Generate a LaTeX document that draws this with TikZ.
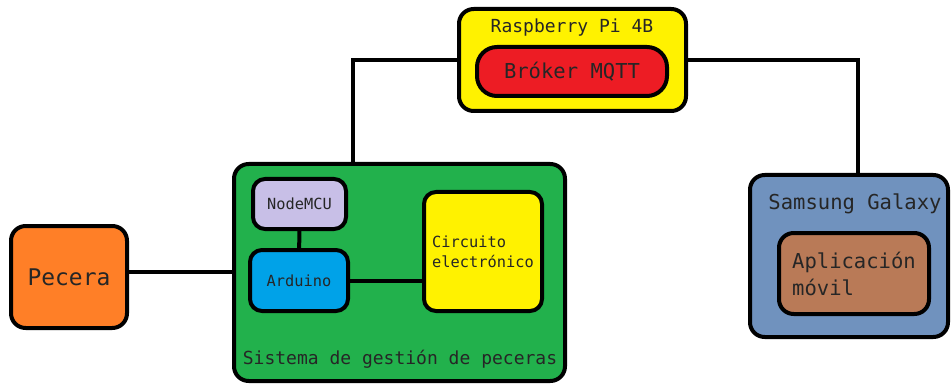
\documentclass[tikz,border=0pt]{standalone}
\usepackage{fontspec}
\setmonofont{DejaVu Sans Mono}
\usetikzlibrary{positioning}
\definecolor{piyellow}{HTML}{FFF200}
\definecolor{brokred}{HTML}{ED1C24}
\definecolor{sysgreen}{HTML}{22B14C}
\definecolor{fishorange}{HTML}{FF7F27}
\definecolor{mculilac}{HTML}{C8BFE7}
\definecolor{ardblue}{HTML}{00A2E8}
\definecolor{galblue}{HTML}{7092BE}
\definecolor{appbrown}{HTML}{B97A57}
\newcommand{\fsz}[1]{\fontsize{#1}{1.3\dimexpr#1pt\relax}\selectfont}

\begin{document}
\begin{tikzpicture}[x=0.75pt, y=-0.75pt, line width=3pt,
          font=\ttfamily, text=black!85,
          blk/.style={draw, rounded corners=9pt, inner sep=0pt, align=center},
          big/.style={blk, rounded corners=11pt},
          lbl/.style={inner sep=0pt}]
        \useasboundingbox (0,0) rectangle (951,385);
        % Raspberry Pi con el broker
        \node[big, fill=piyellow, minimum width=170.25pt, minimum height=76.5pt] (rpi) at (572.5,60) {};
        \node[lbl, font=\ttfamily\fsz{13.5}] (rpiLbl) at (572,28) {Raspberry Pi 4B};
        \node[blk, fill=brokred, rounded corners=15pt, minimum width=142.5pt, minimum height=36.75pt,
              font=\ttfamily\fsz{15.4}] (broker) at (572,71.5) {Bróker MQTT};
        % sistema de gestion
        \node[big, fill=sysgreen, minimum width=248.25pt, minimum height=162.75pt] (sys) at (399.5,272.5) {};
        \node[lbl, font=\ttfamily\fsz{13.5}] (sysLbl) at (400,359) {Sistema de gestión de peceras};
        \node[blk, fill=mculilac, minimum width=69.75pt, minimum height=37.5pt,
              font=\ttfamily\fsz{11.5}] (mcu) at (299.5,204) {NodeMCU};
        \node[blk, fill=ardblue, minimum width=73.5pt, minimum height=45.75pt,
              font=\ttfamily\fsz{11.5}] (ard) at (299,280.5) {Arduino};
        \node[blk, fill=piyellow, minimum width=88.5pt, minimum height=89.25pt, align=left,
              font=\ttfamily\fontsize{11.5}{15}\selectfont] (circ) at (483,251.5) {Circuito\\electrónico};
        % pecera
        \node[big, fill=fishorange, minimum width=87pt, minimum height=76.5pt,
              font=\ttfamily\fsz{17.2}] (pecera) at (69,277) {Pecera};
        % movil
        \node[big, fill=galblue, minimum width=148.5pt, minimum height=121.5pt] (gal) at (849,256) {};
        \node[lbl, font=\ttfamily\fsz{15.4}] (galLbl) at (855,204) {Samsung Galaxy};
        \node[blk, fill=appbrown, rounded corners=11pt, minimum width=112.5pt, minimum height=60.75pt, align=left,
              font=\ttfamily\fontsize{15.4}{20.25}\selectfont] (app) at (854,273.5) {Aplicación\\móvil};
        % conexiones
        \coordinate (sysTap) at (353,164);
        \coordinate (galTap) at (858,175);
        \coordinate (pecTap) at (234,272);
        \draw (rpi.west) -| (sysTap);
        \draw (rpi.east) -| (galTap);
        \draw (pecera.east |- pecTap) -- (pecTap);
        \draw (mcu) -- (ard);
        \draw (ard.east) -- (ard.east -| circ.west);
      \end{tikzpicture}
\end{document}
